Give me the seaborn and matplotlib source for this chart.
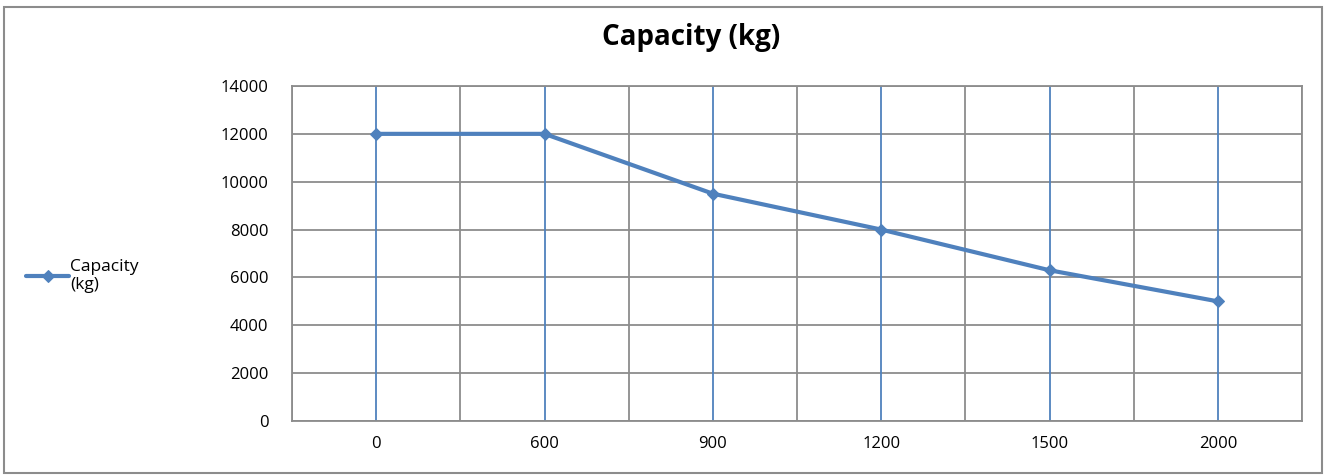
import pandas as pd
import matplotlib.pyplot as plt
import seaborn as sns
from matplotlib.patches import Rectangle

# data
distance = ['0', '600', '900', '1200', '1500', '2000']
capacity = [12000, 12000, 9500, 8000, 6300, 5000]

df = pd.DataFrame({'distance': distance, 'capacity': capacity})
df['pos'] = range(len(df))

sns.set_style('white')
plt.rcParams['font.family'] = ['Open Sans', 'DejaVu Sans']
plt.rcParams['text.color'] = 'black'

blue = '#4F81BD'
grey = '#8C8C8C'

fig = plt.figure(figsize=(13.28, 4.75), dpi=100)
ax = fig.add_axes([292 / 1328, 1 - 421 / 475, (1302 - 292) / 1328, (421 - 86) / 475])

# outer chart frame
fig.patches.append(Rectangle((4 / 1328, 2 / 475), 1318 / 1328, 466 / 475,
                             transform=fig.transFigure, fill=False,
                             edgecolor=grey, linewidth=1.5))

# blue vertical lines at each category
for p in df['pos']:
    ax.axvline(p, color=blue, linewidth=1.3, zorder=1)

sns.lineplot(data=df, x='pos', y='capacity', color=blue, linewidth=3,
             marker='D', markersize=6, markeredgecolor=blue,
             label='Capacity\n(kg)', ax=ax, zorder=3, legend=False)

ax.set_xlim(-0.5, len(df) - 0.5)
ax.set_ylim(0, 14000)
ax.set_yticks(range(0, 14001, 2000))
ax.set_xticks(df['pos'])
ax.set_xticklabels(distance)
ax.set_xticks([i - 0.5 for i in range(len(df) + 1)], minor=True)
ax.set_xlabel('')
ax.set_ylabel('')

ax.grid(True, axis='y', color=grey, linewidth=1.3)
ax.grid(True, axis='x', which='minor', color=grey, linewidth=1.3)
ax.set_axisbelow(True)
for s in ax.spines.values():
    s.set_color(grey)
    s.set_linewidth(1.3)

ax.tick_params(axis='x', which='major', length=0, pad=11, labelsize=12, labelcolor='black')
ax.tick_params(axis='x', which='minor', length=5, width=1.3, color=grey, direction='out')
ax.tick_params(axis='y', length=5, width=1.3, color=grey, direction='out',
               labelsize=12, labelcolor='black', pad=12)

fig.text(691 / 1328, 1 - 37 / 475, 'Capacity (kg)', ha='center', va='center',
         fontsize=20, fontweight='bold', color='black')

h, l = ax.get_legend_handles_labels()
fig.legend(h, l, loc='center left', bbox_to_anchor=(26 / 1328, 1 - 276 / 475),
           frameon=False, fontsize=12.5, handlelength=2.5, handletextpad=0.05,
           borderpad=0, borderaxespad=0, labelspacing=0)

plt.savefig('out.png', dpi=100)
